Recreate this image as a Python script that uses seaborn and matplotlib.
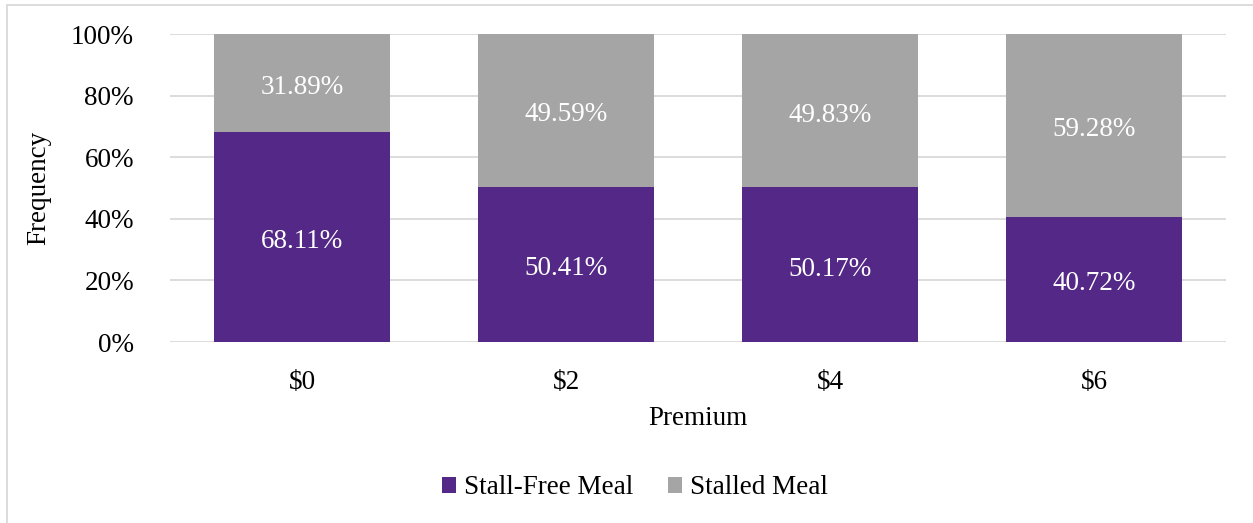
import matplotlib
matplotlib.use("Agg")
import matplotlib.pyplot as plt
import matplotlib.transforms as mtransforms
import seaborn as sns
import pandas as pd
from matplotlib.lines import Line2D
from matplotlib.patches import Patch
from matplotlib.ticker import FuncFormatter

categories = ["$0", "$2", "$4", "$6"]
stall_free = [68.11, 50.41, 50.17, 40.72]
stalled = [31.89, 49.59, 49.83, 59.28]
series_names = ["Stall-Free Meal", "Stalled Meal"]
yticks = [0, 20, 40, 60, 80, 100]

PURPLE = "#532886"
GRAY = "#A5A5A5"
GRID = "#D9D9D9"
FS = 19.5

sns.set_theme(style="white")
plt.rcParams["font.family"] = ["Liberation Serif", "DejaVu Serif"]
plt.rcParams["font.size"] = FS
plt.rcParams["text.color"] = "black"
plt.rcParams["axes.labelcolor"] = "black"

df = pd.DataFrame({
    "Premium": categories,
    "free": stall_free,
    "stalled": stalled,
})
df["total"] = df["free"] + df["stalled"]

fig = plt.figure(figsize=(12.53, 5.23), dpi=100)
ax = fig.add_axes([170 / 1253, 1 - 342 / 523, (1226 - 170) / 1253, (342 - 34) / 523])

sns.barplot(data=df, x="Premium", y="total", color=GRAY, width=0.667,
            saturation=1, ax=ax, zorder=2, linewidth=0)
sns.barplot(data=df, x="Premium", y="free", color=PURPLE, width=0.667,
            saturation=1, ax=ax, zorder=3, linewidth=0)

ax.set_ylim(0, 100)
ax.set_yticks(yticks)
ax.yaxis.set_major_formatter(FuncFormatter(lambda v, p: f"{int(v)}%"))
ax.grid(axis="y", color=GRID, linewidth=1.3, zorder=0)
ax.set_axisbelow(True)
for s in ax.spines.values():
    s.set_visible(False)
ax.tick_params(axis="both", length=0, labelsize=FS, colors="black")
ax.tick_params(axis="y", pad=26)
ax.tick_params(axis="x", pad=20)
ax.set_xlabel("Premium", fontsize=FS, labelpad=8, color="black")
ax.set_ylabel("Frequency", fontsize=FS, labelpad=14, color="black")

shift = mtransforms.offset_copy(ax.transData, fig=fig, x=0, y=-3.3, units="points")
for i, (f, s) in enumerate(zip(stall_free, stalled)):
    ax.text(i, f / 2, f"{f:.2f}%", ha="center", va="center", color="white",
            fontsize=FS, zorder=5, transform=shift)
    ax.text(i, f + s / 2, f"{s:.2f}%", ha="center", va="center", color="white",
            fontsize=FS, zorder=5, transform=shift)

handles = [Patch(facecolor=PURPLE, edgecolor="none"), Patch(facecolor=GRAY, edgecolor="none")]
fig.legend(handles, series_names, loc="center", bbox_to_anchor=(635 / 1253, 1 - 488 / 523),
           ncol=2, frameon=False, fontsize=FS, handlelength=0.5, handleheight=0.5,
           handletextpad=0.3, columnspacing=1.3)

fig.add_artist(Line2D([7 / 1253, 7 / 1253], [0, 1 - 5 / 523], transform=fig.transFigure,
                      color=GRID, linewidth=1.3))
fig.add_artist(Line2D([7 / 1253, 1], [1 - 5 / 523, 1 - 5 / 523], transform=fig.transFigure,
                      color=GRID, linewidth=1.3))

fig.savefig("out.png", dpi=100, facecolor="white")
